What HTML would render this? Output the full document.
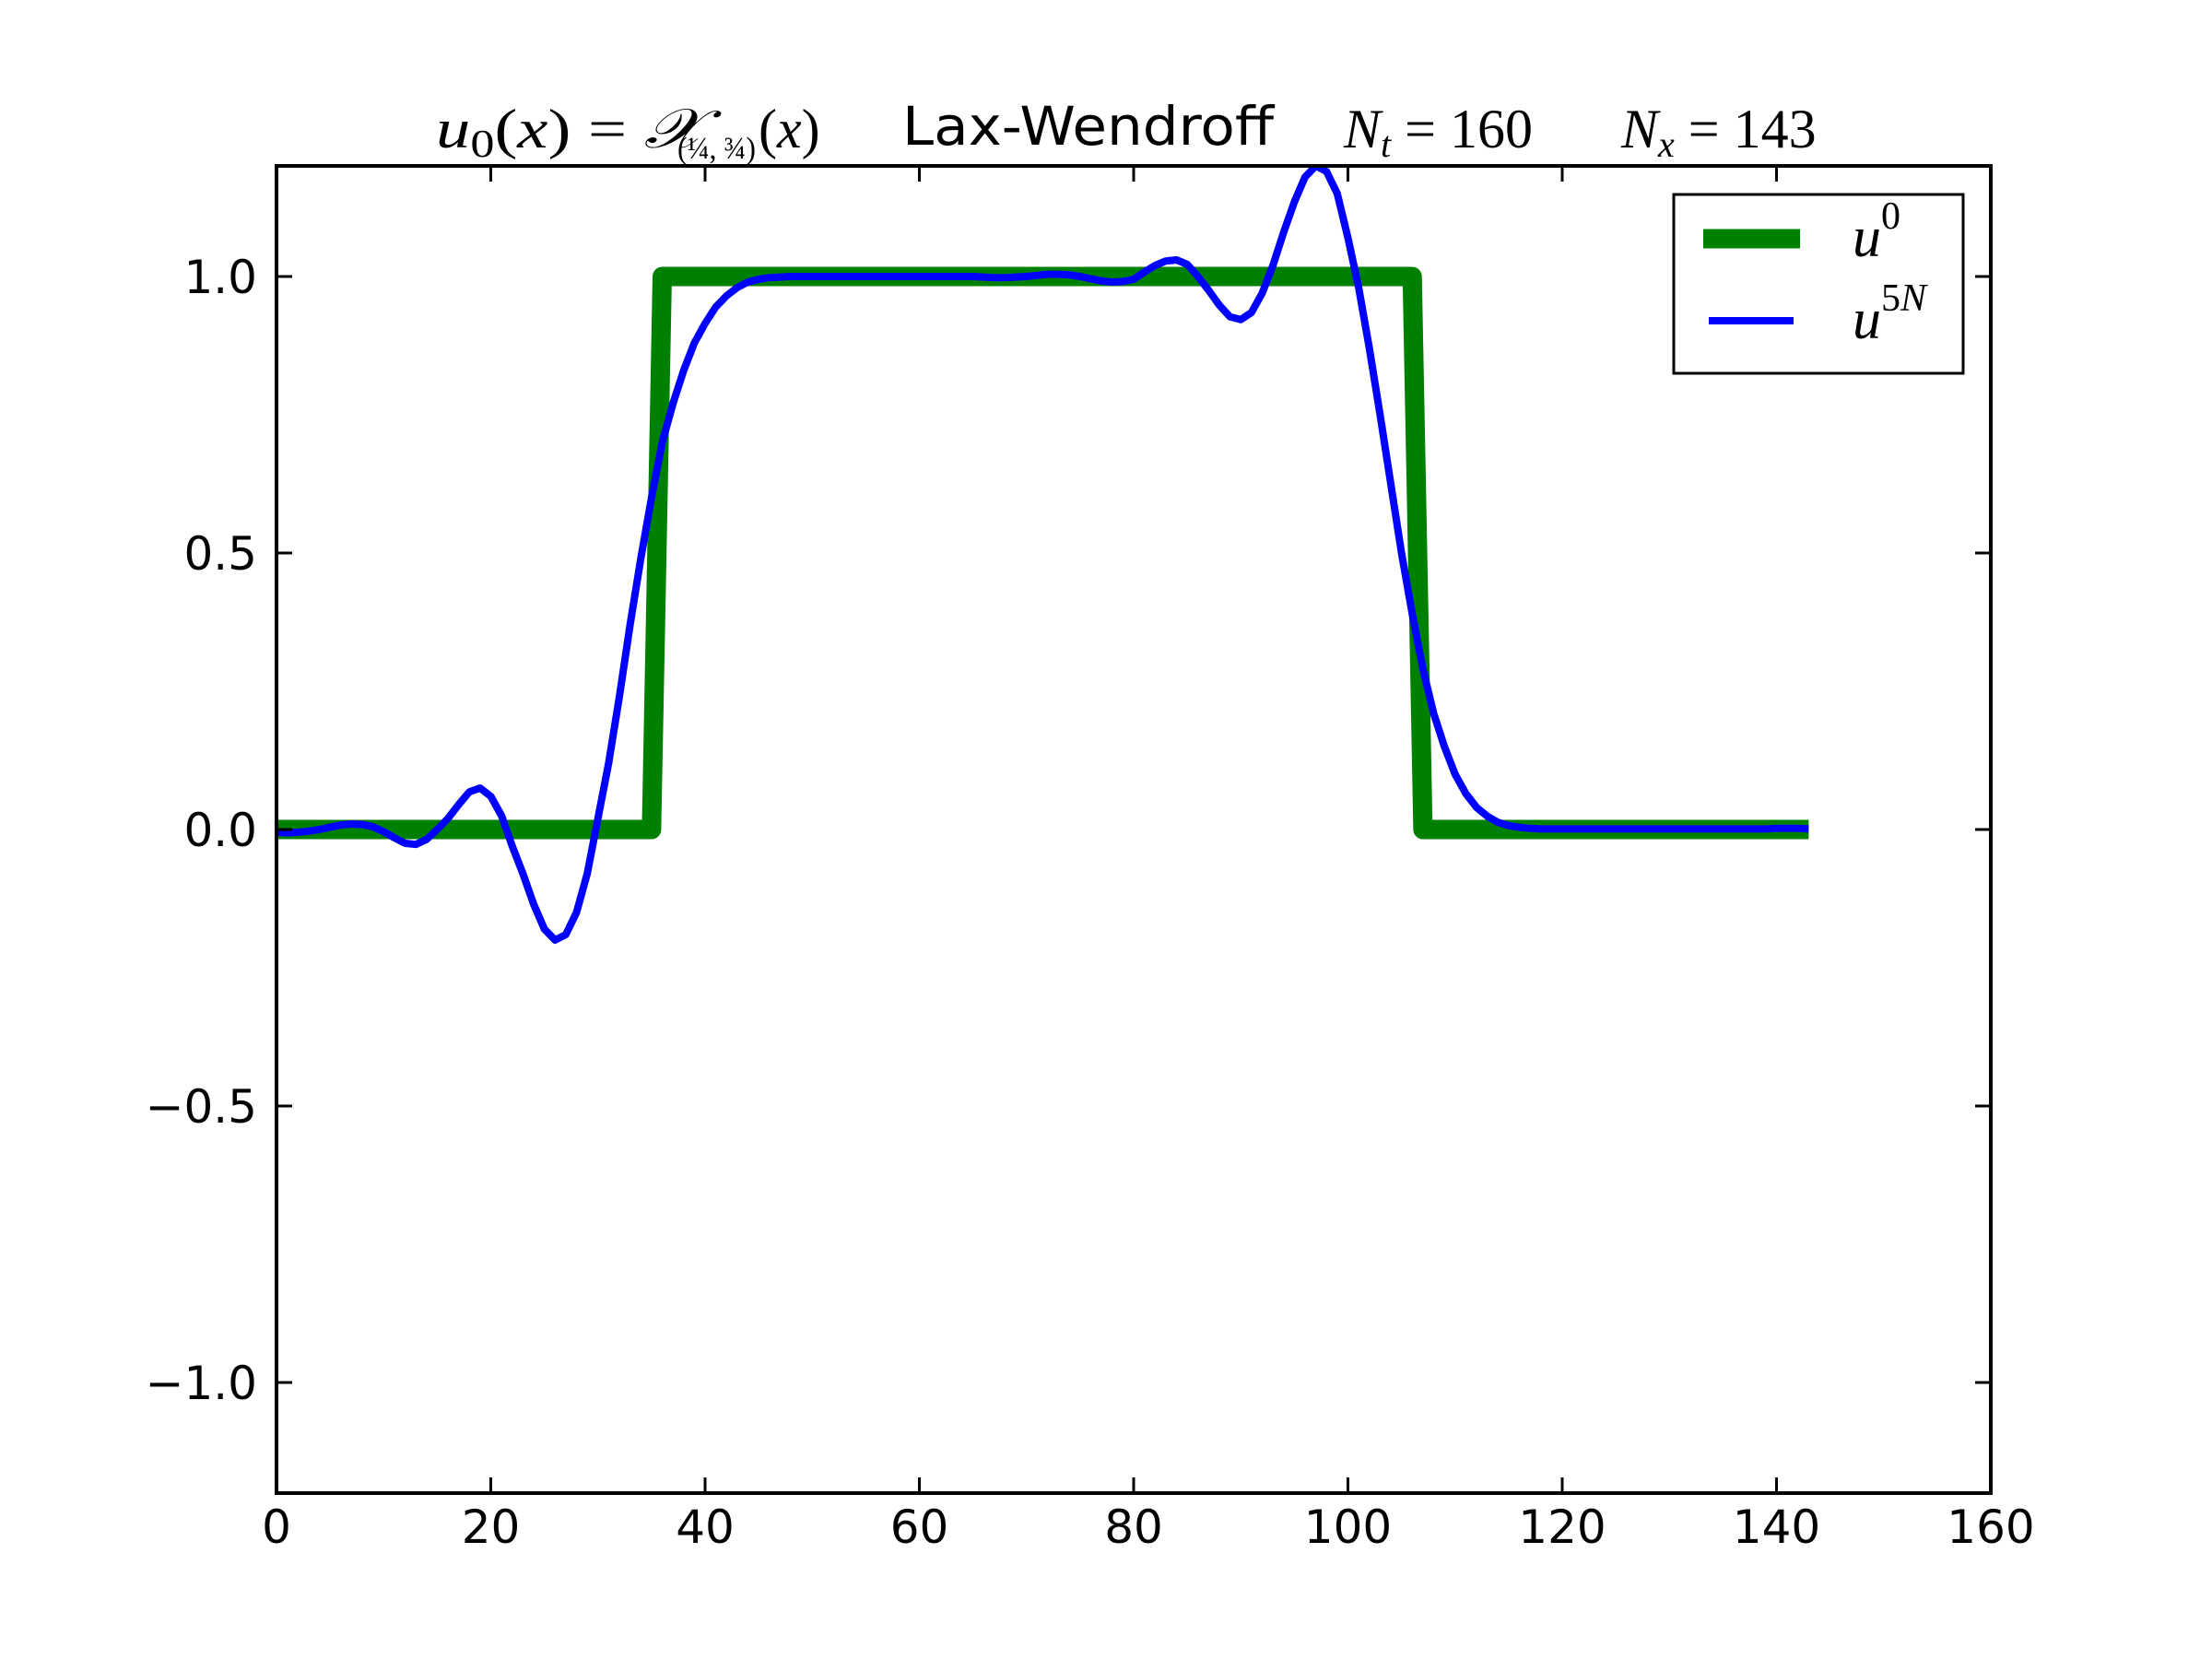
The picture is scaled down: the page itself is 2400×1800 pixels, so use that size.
<!DOCTYPE html>
<html><head><meta charset="utf-8"><style>
html,body{margin:0;padding:0;background:#fff;}
svg{display:block;}
.tick{font-family:"DejaVu Sans","Liberation Sans",sans-serif;font-size:50px;fill:#000;}
.math{font-family:"Liberation Serif","DejaVu Serif",serif;font-style:italic;fill:#000;}
.rm{font-family:"Liberation Serif","DejaVu Serif",serif;font-style:normal;}
</style></head><body>
<svg id="chart" width="2400" height="1800" viewBox="0 0 2400 1800" xmlns="http://www.w3.org/2000/svg">
<rect x="0" y="0" width="2400" height="1800" fill="#fff"/>
<g id="title">
<text class="math" x="473" y="160" font-size="60" textLength="290" lengthAdjust="spacingAndGlyphs">u<tspan class="rm" font-size="42" dy="10">0</tspan><tspan class="rm" dy="-10">(</tspan>x<tspan class="rm">) = </tspan>𝒳</text>
<text class="math rm" x="735" y="172" font-size="34" textLength="85" lengthAdjust="spacingAndGlyphs">(¼, ¾)</text>
<text class="math" x="823" y="160" font-size="60"><tspan class="rm">(</tspan>x<tspan class="rm">)</tspan></text>
<text x="979" y="157" font-family="DejaVu Sans, Liberation Sans, sans-serif" font-size="58" textLength="403" lengthAdjust="spacingAndGlyphs">Lax-Wendroff</text>
<text class="math" x="1458" y="160" font-size="60">N<tspan font-size="40" dy="10">t</tspan><tspan class="rm" dy="-10"> = 160</tspan></text>
<text class="math" x="1759" y="160" font-size="60">N<tspan font-size="40" dy="10">x</tspan><tspan class="rm" dy="-10"> = 143</tspan></text>
</g>
<defs><clipPath id="clip"><rect x="300" y="180" width="1860" height="1440"/></clipPath></defs>
<g id="series" clip-path="url(#clip)"></g>
<g id="axes"></g>
<g id="legend">
<rect x="1816" y="211" width="314" height="194" fill="#fff" stroke="#000" stroke-width="3"/>
<line x1="1848" y1="259" x2="1953" y2="259" stroke="#008000" stroke-width="21"/>
<text class="math" x="2010" y="278" font-size="62">u<tspan class="rm" font-size="42" dy="-30">0</tspan></text>
<line x1="1854" y1="348" x2="1946" y2="348" stroke="#0000ff" stroke-width="8"/>
<text class="math" x="2010" y="367" font-size="62">u<tspan font-size="42" dy="-30"><tspan class="rm">5</tspan>N</tspan></text>
</g>
</svg>
<script>
const xTicks = [0,20,40,60,80,100,120,140,160];
const yTicks = [-1.0,-0.5,0.0,0.5,1.0];
const yTickLabels = ["\u22121.0","\u22120.5","0.0","0.5","1.0"];
const u0 = [];
for (let i = 0; i <= 143; i++) u0.push(i >= 36 && i <= 106 ? 1 : 0);
const u5N = [-0.005,-0.006,-0.005,-0.003,0.0,0.004,0.008,0.01,0.009,0.005,-0.004,-0.015,-0.025,-0.027,-0.018,0.0,0.02,0.045,0.068,0.075,
0.06,0.025,-0.03,-0.08,-0.135,-0.18,-0.2,-0.19,-0.15,-0.08,0.02,0.12,0.24,0.37,0.49,0.6,0.7,0.77,0.83,0.88,
0.915,0.945,0.965,0.98,0.99,0.995,0.998,0.999,1.0,1.0,1.0,1.0,1.0,1.0,1.0,1.0,1.0,1.0,1.0,1.0,
1.0,1.0,1.0,1.0,1.0,1.0,0.999,0.998,0.998,0.999,1.0,1.002,1.004,1.004,1.003,1.0,0.996,0.992,0.99,0.991,
0.995,1.008,1.02,1.028,1.03,1.022,1.0,0.975,0.948,0.927,0.922,0.935,0.97,1.02,1.08,1.135,1.18,1.2,1.19,1.15,
1.07,0.98,0.87,0.75,0.625,0.5,0.39,0.29,0.21,0.15,0.1,0.065,0.04,0.024,0.013,0.007,0.004,0.002,0.001,0.001,
0.001,0.001,0.001,0.001,0.001,0.001,0.001,0.001,0.001,0.001,0.001,0.001,0.001,0.001,0.001,0.001,0.001,0.001,0.001,0.001,
0.002,0.002,0.002,0.001];
const X0=300,X1=2160,Y0=180,Y1=1620;
function sx(v){return X0+(v-0)/(160-0)*(X1-X0);}
function sy(v){return Y1-(v-(-1.2))/(2.4)*(Y1-Y0);}
const NS="http://www.w3.org/2000/svg";
function mk(tag,attrs,parent){const e=document.createElementNS(NS,tag);for(const k in attrs)e.setAttribute(k,attrs[k]);parent.appendChild(e);return e;}
const series=document.getElementById('series');
const p1=u0.map((v,i)=>(i?'L':'M')+sx(i).toFixed(2)+' '+sy(v).toFixed(2)).join(' ');
const g1=mk('path',{d:p1,fill:'none',stroke:'#008000','stroke-width':21,'stroke-linejoin':'round'},series);


const p2=u5N.map((v,i)=>(i?'L':'M')+sx(i).toFixed(2)+' '+sy(v).toFixed(2)).join(' ');
const g2=mk('path',{d:p2,fill:'none',stroke:'#0000ff','stroke-width':8,'stroke-linejoin':'round'},series);


const axes=document.getElementById('axes');
xTicks.forEach(t=>{
  const x=sx(t);
  const a=mk('line',{x1:x,y1:Y1,x2:x,y2:Y1-17,stroke:'#000','stroke-width':3},axes);
  
  
  const b=mk('line',{x1:x,y1:Y0,x2:x,y2:Y0+17,stroke:'#000','stroke-width':3},axes);
  
  
  const tx=mk('text',{x:x,y:1674,'text-anchor':'middle',class:'tick'},axes);
  tx.textContent=String(t);
  
  
});
yTicks.forEach((t,i)=>{
  const y=sy(t);
  const a=mk('line',{x1:X0,y1:y,x2:X0+17,y2:y,stroke:'#000','stroke-width':3},axes);
  
  
  const b=mk('line',{x1:X1,y1:y,x2:X1-17,y2:y,stroke:'#000','stroke-width':3},axes);
  
  
  const tx=mk('text',{x:279,y:y+18,'text-anchor':'end',class:'tick'},axes);
  tx.textContent=yTickLabels[i];
  
  
});
const frame=mk('rect',{x:X0,y:Y0,width:X1-X0,height:Y1-Y0,fill:'none',stroke:'#000','stroke-width':4},axes);


</script>
</body></html>
